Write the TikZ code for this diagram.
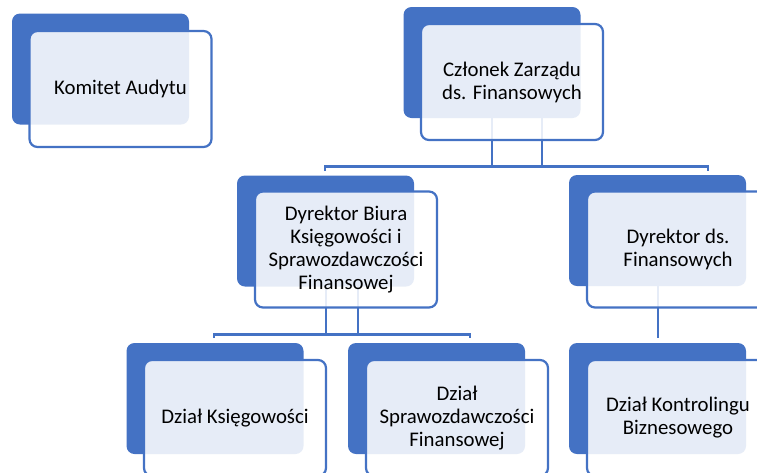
\documentclass[tikz,border=0pt]{standalone}
\usepackage{fontspec}
\setmainfont{Carlito}
\usetikzlibrary{calc}
\definecolor{sablue}{HTML}{4472C4}
\tikzset{
  backbox/.style={draw=none, fill=sablue, rounded corners=8pt, minimum width=177pt, minimum height=111pt, inner sep=0pt},
  frontbox/.style={draw=sablue, line width=2.2pt, fill=white, fill opacity=0.87, text opacity=1, rounded corners=8pt,
    minimum width=182pt, minimum height=116pt, inner sep=0pt, align=center, font=\fontsize{20.8}{23}\selectfont},
  conn/.style={draw=sablue, line width=2.2pt}
}
\begin{document}
\begin{tikzpicture}[x=1pt,y=-1pt]
\useasboundingbox (0,0) rectangle (757,472);
\clip (0,0) rectangle (757,472);
% connector corner points
\coordinate (t1L) at (325,171);
\coordinate (c1L) at (325,166.5);
\coordinate (c1R) at (708,166.5);
\coordinate (t1R) at (708,171);
\coordinate (m1a) at (492,166.5);
\coordinate (m1b) at (542,166.5);
\coordinate (t2L) at (214,338);
\coordinate (c2L) at (214,334.5);
\coordinate (c2R) at (470,334.5);
\coordinate (t2R) at (470,338);
\coordinate (m2a) at (326,334.5);
\coordinate (m2b) at (358,334.5);
\coordinate (m3) at (658,338);
% back boxes (positions)
\coordinate (kaBc) at (100.5,69);
\coordinate (czBc) at (492,62.5);
\coordinate (dbBc) at (325.5,231);
\coordinate (dfBc) at (657.5,230.5);
\coordinate (dkBc) at (215,398.5);
\coordinate (dsBc) at (436.5,398.5);
\coordinate (dbzBc) at (657.5,398.5);
% connectors
\draw[conn] (t1L) -- (c1L) -- (c1R) -- (t1R);
\draw[conn] (492,100) -- (m1a);
\draw[conn] (542,100) -- (m1b);
\draw[conn] (t2L) -- (c2L) -- (c2R) -- (t2R);
\draw[conn] (326,270) -- (m2a);
\draw[conn] (358,270) -- (m2b);
\draw[conn] (658,270) -- (m3);
% boxes
\foreach \n in {ka,cz,db,df,dk,ds,dbz}{
  \node[backbox] (\n B) at (\n Bc) {};
}
\node[frontbox] (ka) at ($(kaBc)+(20,20)$) {Komitet Audytu};
\node[frontbox] (cz) at ($(czBc)+(20,19.5)$) {Członek Zarządu\\ds. Finansowych};
\node[frontbox] (db) at ($(dbBc)+(20.5,18.5)$) {Dyrektor Biura\\Księgowości i\\Sprawozdawczości\\Finansowej};
\node[frontbox] (df) at ($(dfBc)+(20.5,19)$) {Dyrektor ds.\\Finansowych};
\node[frontbox] (dk) at ($(dkBc)+(20,19.5)$) {Dział Księgowości};
\node[frontbox] (ds) at ($(dsBc)+(20.5,19.5)$) {Dział\\Sprawozdawczości\\Finansowej};
\node[frontbox] (dbz) at ($(dbzBc)+(20.5,19.5)$) {Dział Kontrolingu\\Biznesowego};
\end{tikzpicture}
\end{document}
